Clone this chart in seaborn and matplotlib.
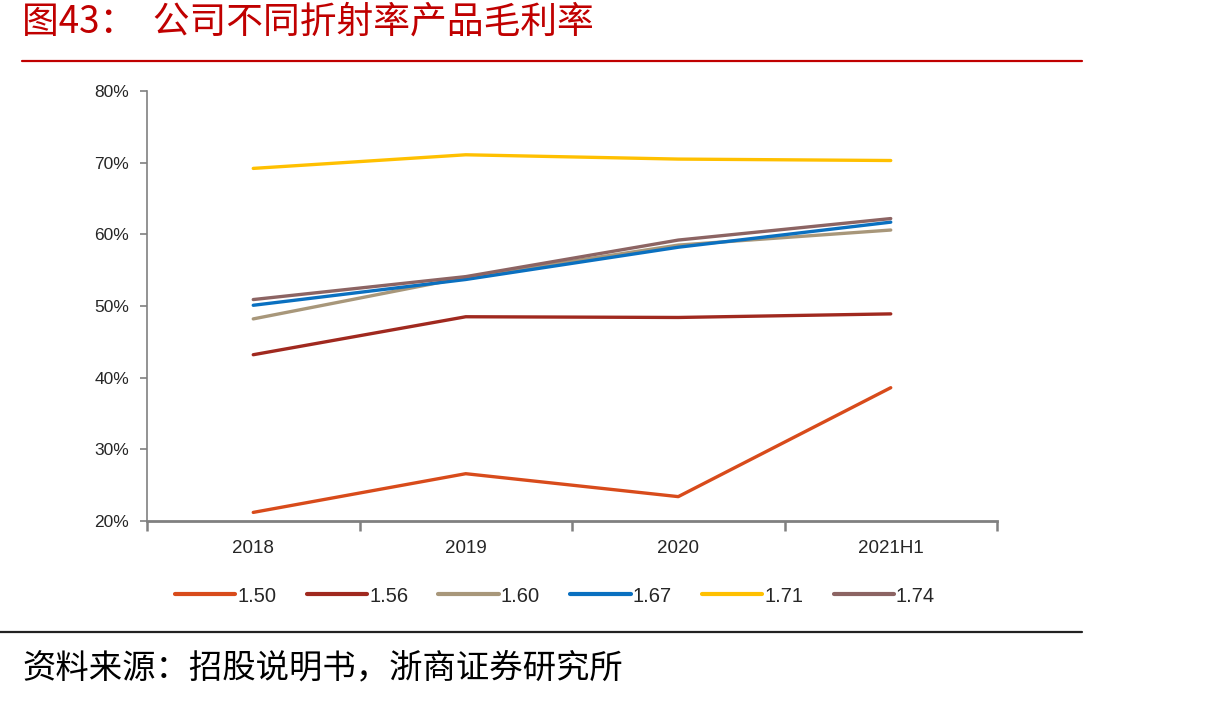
import pandas as pd
import matplotlib
matplotlib.use("Agg")
import matplotlib.pyplot as plt
import seaborn as sns
from matplotlib.ticker import FixedLocator, PercentFormatter

# Datos
periodos = ["2018", "2019", "2020", "2021H1"]
series = ["1.50", "1.56", "1.60", "1.67", "1.71", "1.74"]
margen_150 = [21.2, 26.6, 23.4, 38.6]
margen_156 = [43.2, 48.5, 48.4, 48.9]
margen_160 = [48.2, 54.0, 58.5, 60.6]
margen_167 = [50.1, 53.7, 58.2, 61.7]
margen_171 = [69.2, 71.1, 70.5, 70.3]
margen_174 = [50.9, 54.1, 59.2, 62.2]
colores = ["#D84B1B", "#A0291F", "#A8977A", "#0A70C0", "#FFC000", "#8C6463"]

valores = [margen_150, margen_156, margen_160, margen_167, margen_171, margen_174]
filas = []
for nombre, vals in zip(series, valores):
    for p, v in zip(periodos, vals):
        filas.append({"periodo": p, "serie": nombre, "valor": v})
df = pd.DataFrame(filas)

sns.set_theme(style="white")
plt.rcParams["font.family"] = ["Liberation Sans", "Noto Sans CJK SC", "DejaVu Sans"]

fig = plt.figure(figsize=(12.1, 7.02), dpi=100)
ax = fig.add_axes([147 / 1210, 1 - 521 / 702, (997 - 147) / 1210, (521 - 91) / 702])

sns.lineplot(data=df, x="periodo", y="valor", hue="serie", palette=colores,
             linewidth=2.4, ax=ax, sort=False)

ax.set_xlim(-0.5, 3.5)
ax.set_ylim(20, 80)
ax.set_xlabel("")
ax.set_ylabel("")
ax.yaxis.set_major_formatter(PercentFormatter(decimals=0))
ax.set_yticks(range(20, 81, 10))

# etiquetas en el centro, marcas entre categorías
ax.set_xticks(range(4))
ax.set_xticklabels(periodos, fontsize=13.5)
ax.xaxis.set_minor_locator(FixedLocator([-0.5, 0.5, 1.5, 2.5, 3.5]))
ax.tick_params(axis="x", which="both", bottom=True)
ax.tick_params(axis="x", which="major", length=0, pad=14)
ax.tick_params(axis="x", which="minor", length=7, width=1.8, color="#808080", direction="out")
ax.tick_params(axis="y", left=True, length=5, width=1.2, color="#808080", direction="out",
               labelsize=12.5, pad=8)

for s in ["top", "right"]:
    ax.spines[s].set_visible(False)
ax.spines["left"].set_color("#808080")
ax.spines["left"].set_linewidth(1.2)
ax.spines["bottom"].set_color("#808080")
ax.spines["bottom"].set_linewidth(2)

leg = ax.legend(loc="center", bbox_to_anchor=(555 / 1210, 1 - 596 / 702),
                bbox_transform=fig.transFigure, ncol=6, frameon=False,
                fontsize=14.5, handlelength=3.0, handletextpad=0.1, columnspacing=1.5)
for linea in leg.get_lines():
    linea.set_linewidth(3)

# Título, líneas y fuente
fig.text(22 / 1210, 1 - 22 / 702, "图43：  公司不同折射率产品毛利率", color="#C00000",
         fontsize=26.5, va="center", ha="left", family=["Noto Sans CJK SC", "DejaVu Sans"])
fig.add_artist(plt.Line2D([22 / 1210, 1082 / 1210], [1 - 61 / 702] * 2, color="#C00000", linewidth=1.6))
fig.add_artist(plt.Line2D([0, 1082 / 1210], [1 - 632 / 702] * 2, color="#222222", linewidth=1.6))
fig.text(22 / 1210, 1 - 668 / 702, "资料来源：招股说明书，浙商证券研究所", color="black",
         fontsize=24, va="center", ha="left", family=["Noto Sans CJK SC", "DejaVu Sans"])

fig.savefig("out.png", dpi=100)
